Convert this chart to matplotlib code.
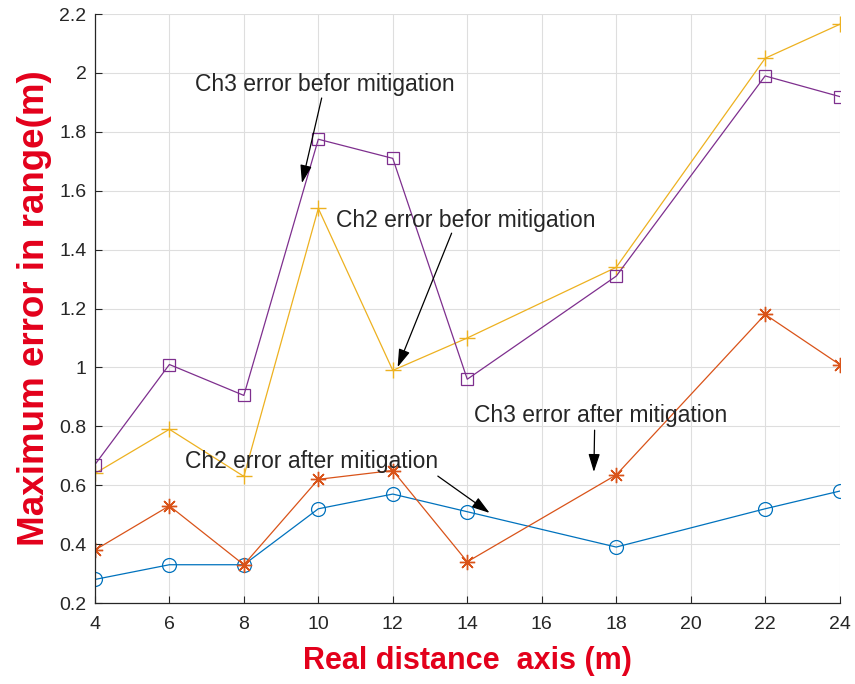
import matplotlib
matplotlib.use("Agg")
import matplotlib.pyplot as plt
from matplotlib.ticker import FuncFormatter

plt.rcParams['font.family'] = ['Liberation Sans', 'DejaVu Sans']

# distances (m) and maximum range error (m) per channel
distance = [4, 6, 8, 10, 12, 14, 18, 22, 24]
ch2_after = [0.28, 0.33, 0.33, 0.52, 0.57, 0.51, 0.39, 0.52, 0.58]
ch3_after = [0.38, 0.53, 0.33, 0.62, 0.65, 0.34, 0.635, 1.18, 1.01]
ch2_before = [0.64, 0.79, 0.63, 1.54, 0.99, 1.10, 1.34, 2.05, 2.165]
ch3_before = [0.67, 1.01, 0.905, 1.775, 1.71, 0.96, 1.31, 1.99, 1.92]

x_ticks = [4, 6, 8, 10, 12, 14, 16, 18, 20, 22, 24]
y_ticks = [0.2, 0.4, 0.6, 0.8, 1.0, 1.2, 1.4, 1.6, 1.8, 2.0, 2.2]

fig = plt.figure(figsize=(8.55, 6.84), dpi=100)
ax = fig.add_axes([0.111, 0.1184, 0.871, 0.861])

asterisk = (8, 2, 0)
ax.plot(distance, ch2_after, '-o', color='#0072BD', lw=0.9, ms=10, mfc='none', mew=0.9)
ax.plot(distance, ch3_after, '-', marker=asterisk, color='#D95319', lw=0.9, ms=11, mew=1.0)
ax.plot(distance, ch2_before, '-+', color='#EDB120', lw=0.9, ms=11, mew=1.0)
ax.plot(distance, ch3_before, '-s', color='#7E2F8E', lw=0.9, ms=8, mfc='none', mew=0.9)

ax.set_xlim(4, 24)
ax.set_ylim(0.2, 2.2)
ax.set_xticks(x_ticks)
ax.set_yticks(y_ticks)
ax.yaxis.set_major_formatter(FuncFormatter(lambda v, p: '%g' % round(v, 2)))
ax.grid(True, color='#dedede', lw=0.8)
ax.set_axisbelow(True)
for s in ('top', 'right'):
    ax.spines[s].set_visible(False)
for s in ('left', 'bottom'):
    ax.spines[s].set_color('#262626')
    ax.spines[s].set_linewidth(0.9)
ax.tick_params(direction='in', length=5, labelsize=14, colors='#262626', pad=6)
ax.tick_params(axis='x', pad=9)

ax.set_xlabel('Real distance  axis (m)', color='#e3001b', fontsize=22, fontweight='bold', labelpad=10)
ax.set_ylabel('Maximum error in range(m)', color='#e3001b', fontsize=26.5, fontweight='bold', labelpad=5)

arrow = dict(arrowstyle='-|>,head_length=1.1,head_width=0.35', color='black', lw=0.9, shrinkA=0, shrinkB=0)
notes = [
    ('Ch3 error befor mitigation', (10.17, 1.96), (10.09, 1.915), (9.56, 1.626)),
    ('Ch2 error befor mitigation', (13.96, 1.50), (13.58, 1.456), (12.13, 1.001)),
    ('Ch2 error after mitigation', (9.83, 0.679), (13.21, 0.631), (14.6, 0.506)),
    ('Ch3 error after mitigation', (17.58, 0.838), (17.42, 0.787), (17.40, 0.645)),
]
for label, txy, start, end in notes:
    ax.text(txy[0], txy[1], label, ha='center', va='center', fontsize=16.5, color='#262626')
    ax.annotate('', xy=end, xytext=start, arrowprops=arrow)

fig.savefig('out.png', dpi=100)
